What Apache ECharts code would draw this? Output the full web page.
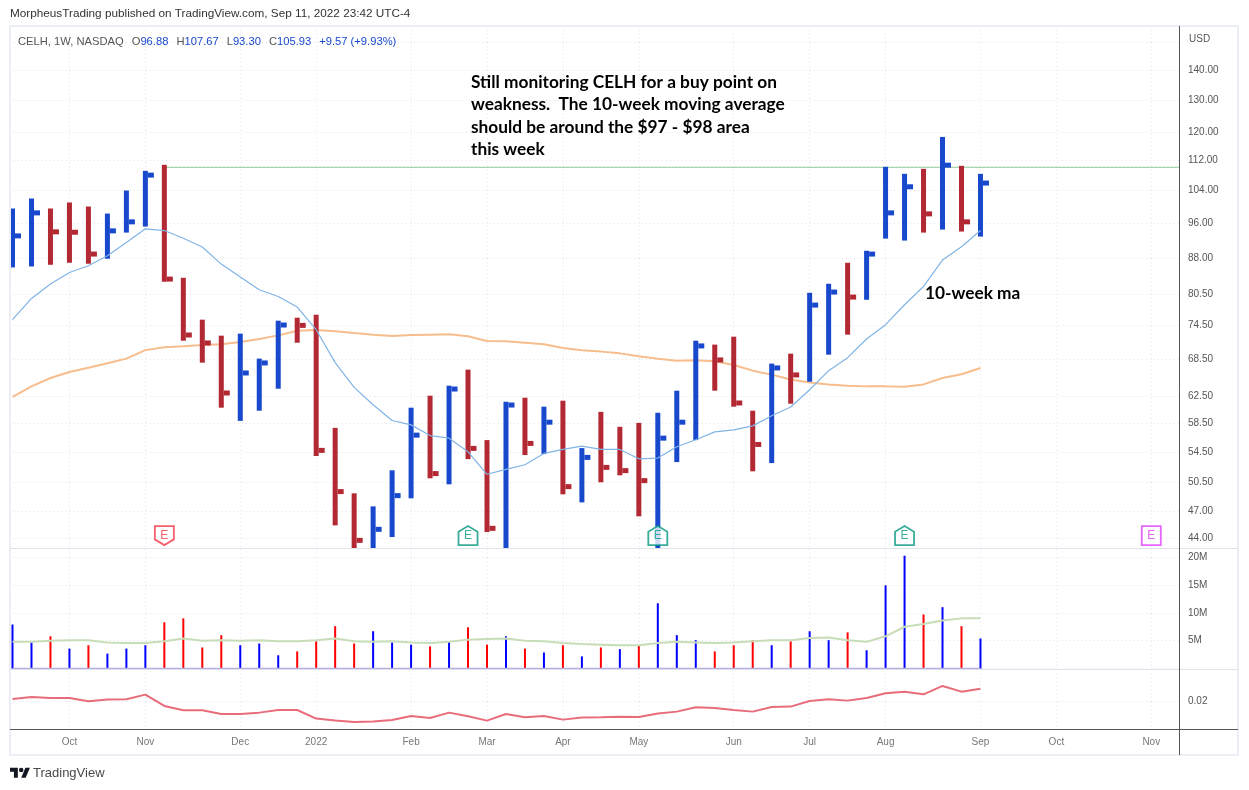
<!DOCTYPE html>
<html>
<head>
<meta charset="utf-8">
<title>CELH 1W</title>
<script src="https://cdn.jsdelivr.net/npm/echarts@6/dist/echarts.min.js"></script>
<style>
html,body{margin:0;padding:0;background:#fff;}
#main{width:1249px;height:790px;}
</style>
</head>
<body>
<div id="main"></div>
<script>
// weekly bars, index 0 = week of Sep 13 2021
var highs = [99.47,101.96,99.47,100.96,99.96,98.23,104,109.18,110.82,83.81,75.56,72.63,72.99,68.62,75.37,75.93,76.5,57.82,49.18,47.62,52.06,60.78,62.61,64.18,66.78,56.1,61.69,62.3,60.93,61.84,55,60.16,57.97,58.54,60.01,63.39,71.73,71.04,72.45,60.33,67.78,69.47,80.76,82.58,86.98,89.6,110.27,108.38,109.72,118.73,110.54,108.38];
var lows = [85.98,86.19,86.55,86.98,86.77,87.85,93.72,95.13,82.99,71.73,67.94,60.78,58.83,60.33,63.7,71.38,53.92,45.43,42,42,44.14,48.58,51.04,50.29,53.52,44.69,42,54.06,54.19,49.06,48.09,50.54,51.42,46.46,42,53.13,56.1,63.39,60.93,51.93,53,61.38,64.81,69.3,72.81,79.37,92.34,91.89,93.72,94.42,93.96,92.8];
var closes = [92.96,98.4,93.89,93.8,88.87,94.12,96.24,108.03,83.54,72.75,71.33,63.03,66.23,67.89,74.57,74.5,54.69,49.39,43.78,44.99,48.9,56.79,51.64,63.65,54.96,45.1,61.18,55.64,58.64,50,53.75,52.44,52.02,50.75,56.37,58.64,70.81,68.4,61.49,55.5,67.06,65.91,78.34,80.9,79.9,88.87,98.4,104.96,98.16,110.73,96.24,105.93];
var ma10 = [75.56,79.63,82.52,84.92,86.34,88.5,91.43,94.59,94.19,92.41,90.43,86.69,83.96,81.36,80.02,77.95,73.71,67.94,63.91,61.23,58.88,58.25,56.73,56.37,54.5,51.55,52.19,52.78,54.28,54.82,55.27,54.82,54.82,53.56,53.66,55.18,56.14,57.25,57.54,58.11,59.57,60.88,63.54,66.61,68.79,72.04,74.63,78.4,82.03,87.57,90.49,94.19];
var ma50 = [62.41,64.07,65.41,66.4,67.09,67.83,68.62,70.08,70.56,70.74,70.98,71.09,71.5,72.04,72.68,73.53,73.66,73.44,73.11,72.81,72.57,72.75,72.81,72.87,72.52,71.68,71.62,71.39,71.09,70.46,70.04,69.82,69.52,69.01,68.62,68.28,68.33,68.16,67.55,66.61,65.96,65.18,64.7,64.38,64.18,64.07,64.07,64.02,64.38,65.41,66.01,67.06];
var volumeM = [7.9,4.7,5.8,3.6,4.2,2.7,3.6,4.2,8.3,9,3.8,6,4.2,4.5,2.4,3.1,4.9,7.6,4.5,6.7,4.7,4.3,4,4.9,7.4,4.3,5.8,3.6,2.9,4.2,2.2,3.8,3.5,4.2,11.7,6,5.1,3.1,4.2,5.1,4.2,4.9,6.7,5.1,6.5,3.3,14.9,20.2,9.7,11,7.6,5.4];
var volumeUp = [1,1,0,1,0,1,1,1,0,0,0,0,1,1,1,0,0,0,0,1,1,1,0,1,0,0,1,0,1,0,1,0,1,0,1,1,1,0,0,0,1,0,1,1,0,1,1,1,0,1,0,1];
var volumeMaM = [4.8,4.8,5,5.1,5.1,4.7,4.6,4.6,4.9,5.4,5,5.1,5,5.1,4.9,4.9,5.1,5.4,4.9,4.8,4.9,4.7,4.6,4.8,5.2,5.3,5.4,5,4.9,4.6,4.4,4.3,4.2,4.2,4.6,4.8,4.7,4.6,4.7,4.9,5.1,5.1,5.5,5.6,5.1,4.8,5.8,7.5,8,8.6,9,9];
var oscValues = [.02083,.02155,.02119,.02119,.02,.0206,.02071,.02238,.01833,.01679,.01679,.01548,.01548,.01595,.0169,.0169,.01381,.0131,.01262,.01274,.01333,.01476,.01405,.01595,.01464,.0131,.01548,.01429,.01476,.01345,.01417,.01429,.01452,.0144,.0156,.01631,.01786,.01762,.0169,.01631,.01798,.0181,.02012,.02071,.02024,.02119,.02286,.02345,.0225,.02548,.02345,.02452];

var priceTicks = [44,47,50.5,54.5,58.5,62.5,68.5,74.5,80.5,88,96,104,112,120,130,140,150];
var volumeTicks = [0,5,10,15,20];
var oscTicks = [0.02];
var monthIdx = [3,7,12,16,21,25,29,33,38,42,46,51,55,60];
var monthNames = ['Oct','Nov','Dec','2022','Feb','Mar','Apr','May','Jun','Jul','Aug','Sep','Oct','Nov'];
var earningsIdx = [8,24,34,47,60];
var earningsKind = ['down','up','up','up','future'];
var resistance = 110.14;
var resistanceStart = 8;
var earningsPrice = 44.3;

var upColor = '#1848cc', downColor = '#b22833';
var gridColor = '#e0e3eb', textColor = '#555';
var font = '"Liberation Sans", sans-serif';
var xMin = -0.132, xMax = 61.46;

var myChart = echarts.init(document.getElementById('main'));

function indexed(arr) {
    var res = [];
    for (var i = 0; i < arr.length; i++) res.push([i, arr[i]]);
    return res;
}

function timeAxis(gridIndex, showLabel) {
    return {
        type: 'value', gridIndex: gridIndex, min: xMin, max: xMax,
        axisLine: {show: false},
        axisTick: {show: false, customValues: monthIdx},
        axisLabel: {
            show: showLabel, color: '#777', fontFamily: font, fontSize: 10, margin: 8,
            customValues: monthIdx,
            formatter: function (v) { return monthNames[monthIdx.indexOf(v)]; }
        },
        splitLine: {show: true, lineStyle: {color: gridColor, type: [1, 3], width: 1}}
    };
}

var barData = [];
for (var i = 0; i < highs.length; i++) barData.push([i, highs[i], lows[i], closes[i]]);

var volumeData = [];
for (var j = 0; j < volumeM.length; j++) {
    volumeData.push({
        value: [j, volumeM[j]],
        itemStyle: {color: volumeUp[j] ? '#0000ff' : '#ff0000'}
    });
}

var shapes = {
    down: 'path://M0 0H20V14L10 20L0 14Z',
    up: 'path://M10 0L20 6V20H0V6Z',
    future: 'path://M0 0H20V20H0Z'
};
var shapeColors = {down: '#f23645', up: '#089981', future: '#e040fb'};
var earningsData = earningsIdx.map(function (idx, k) {
    var c = shapeColors[earningsKind[k]];
    return {
        value: [idx, earningsPrice],
        symbol: shapes[earningsKind[k]],
        itemStyle: {color: '#fff', borderColor: c, borderWidth: 1.8},
        label: {color: c}
    };
});

var option = {
    animation: false,
    backgroundColor: '#fff',
    grid: [
        {left: 10, top: 26, width: 1169, height: 522},
        {left: 10, top: 549, width: 1169, height: 120},
        {left: 10, top: 669, width: 1169, height: 60}
    ],
    xAxis: [timeAxis(0, false), timeAxis(1, false), timeAxis(2, true)],
    yAxis: [
        {
            type: 'log', gridIndex: 0, position: 'right', min: 42.96, max: 156.21,
            axisLine: {show: false},
            axisTick: {show: false, customValues: priceTicks},
            axisLabel: {
                color: textColor, fontFamily: font, fontSize: 10, margin: 9,
                customValues: priceTicks,
                formatter: function (v) { return v == 150 ? '' : v.toFixed(2); }
            },
            splitLine: {show: true, lineStyle: {color: gridColor, type: [1, 3]}}
        },
        {
            type: 'value', gridIndex: 1, position: 'right', min: -0.05, max: 21.4,
            axisLine: {show: false},
            axisTick: {show: false, customValues: volumeTicks},
            axisLabel: {
                color: textColor, fontFamily: font, fontSize: 10, margin: 9,
                customValues: volumeTicks,
                formatter: function (v) { return v ? v + 'M' : ''; }
            },
            splitLine: {show: true, lineStyle: {color: gridColor, type: [1, 3]}}
        },
        {
            type: 'value', gridIndex: 2, position: 'right', min: 0.0101, max: 0.03154,
            axisLine: {show: false},
            axisTick: {show: false, customValues: oscTicks},
            axisLabel: {
                color: textColor, fontFamily: font, fontSize: 10, margin: 9,
                customValues: oscTicks,
                formatter: function (v) { return v.toFixed(2); }
            },
            splitLine: {show: true, lineStyle: {color: gridColor, type: [1, 3]}}
        }
    ],
    series: [
        {
            name: 'MA50', type: 'line', xAxisIndex: 0, yAxisIndex: 0, data: indexed(ma50),
            showSymbol: false, z: 3, lineStyle: {color: '#f7bd8d', width: 2}
        },
        {
            name: 'High line', type: 'line', xAxisIndex: 0, yAxisIndex: 0,
            data: [[resistanceStart, resistance], [xMax, resistance]],
            showSymbol: false, z: 2, lineStyle: {color: '#93c99a', width: 1}
        },
        {
            name: 'CELH', type: 'custom', xAxisIndex: 0, yAxisIndex: 0, data: barData, clip: true, z: 4,
            encode: {x: 0, y: [1, 2, 3]},
            renderItem: function (params, api) {
                var idx = api.value(0);
                var top = api.coord([idx, api.value(1)]);
                var bot = api.coord([idx, api.value(2)]);
                var cl = api.coord([idx, api.value(3)]);
                var prev = idx > 0 ? closes[idx - 1] : 0;
                var color = api.value(3) >= prev ? upColor : downColor;
                return {
                    type: 'group',
                    children: [
                        {type: 'rect', shape: {x: top[0] - 2.5, y: top[1], width: 5, height: bot[1] - top[1]}, style: {fill: color}},
                        {type: 'rect', shape: {x: top[0] + 2.5, y: cl[1] - 2.5, width: 6, height: 5}, style: {fill: color}}
                    ]
                };
            }
        },
        {
            name: 'MA10', type: 'line', xAxisIndex: 0, yAxisIndex: 0, data: indexed(ma10),
            showSymbol: false, z: 5, lineStyle: {color: '#80b4e6', width: 1.2}
        },
        {
            name: 'Earnings', type: 'scatter', xAxisIndex: 0, yAxisIndex: 0, data: earningsData, z: 6,
            symbolSize: 19,
            label: {show: true, position: 'inside', formatter: 'E', fontFamily: font, fontSize: 12}
        },
        {
            name: 'Volume', type: 'bar', xAxisIndex: 1, yAxisIndex: 1, data: volumeData, barWidth: 2, z: 2
        },
        {
            name: 'Volume base', type: 'line', xAxisIndex: 1, yAxisIndex: 1, data: indexed(volumeM.map(function () { return 0; })),
            showSymbol: false, z: 3, lineStyle: {color: '#b3aede', width: 2}
        },
        {
            name: 'Volume MA', type: 'line', xAxisIndex: 1, yAxisIndex: 1, data: indexed(volumeMaM),
            showSymbol: false, z: 3, lineStyle: {color: '#c6ddb7', width: 2}
        },
        {
            name: 'RS', type: 'line', xAxisIndex: 2, yAxisIndex: 2, data: indexed(oscValues),
            showSymbol: false, z: 3, lineStyle: {color: '#e86c7a', width: 2}
        }
    ],
    graphic: [
        {type: 'rect', z: 10, shape: {x: 10, y: 26, width: 1228, height: 729}, style: {fill: 'none', stroke: '#eceef5', lineWidth: 2}},
        {type: 'line', z: 10, shape: {x1: 10, y1: 548.5, x2: 1238, y2: 548.5}, style: {stroke: gridColor}},
        {type: 'line', z: 10, shape: {x1: 10, y1: 669.5, x2: 1238, y2: 669.5}, style: {stroke: gridColor}},
        {type: 'line', z: 10, shape: {x1: 10, y1: 729.5, x2: 1238, y2: 729.5}, style: {stroke: '#555'}},
        {type: 'line', z: 10, shape: {x1: 1179.5, y1: 26, x2: 1179.5, y2: 755}, style: {stroke: '#555'}},
        {type: 'text', z: 11, x: 10, y: 8, style: {text: 'MorpheusTrading published on TradingView.com, Sep 11, 2022 23:42 UTC-4', fill: '#333', font: '11.75px ' + font}},
        {
            type: 'text', z: 11, x: 18, y: 36,
            style: {
                text: '{g|CELH, 1W, NASDAQ}{s| }{g|O}{b|96.88}{s| }{g|H}{b|107.67}{s| }{g|L}{b|93.30}{s| }{g|C}{b|105.93}{s| }{b|+9.57 (+9.93%)}',
                rich: {
                    g: {fill: '#555', font: '11.2px ' + font},
                    b: {fill: upColor, font: '11.2px ' + font},
                    s: {width: 8, font: '11.2px ' + font}
                }
            }
        },
        {type: 'text', z: 11, x: 1189, y: 34, style: {text: 'USD', fill: textColor, font: '10px ' + font}},
        {type: 'text', z: 11, x: 471, y: 71, style: {text: 'Still monitoring CELH for a buy point on\nweakness.  The 10-week moving average\nshould be around the $97 - $98 area\nthis week', fill: '#000', font: 'bold 17.3px Lato, sans-serif', lineHeight: 22.4}},
        {type: 'text', z: 11, x: 925, y: 285, style: {text: '10-week ma', fill: '#000', font: 'bold 17.3px Lato, sans-serif'}},
        {type: 'text', z: 11, x: 33, y: 767, style: {text: 'TradingView', fill: '#4a4a4a', font: '13px ' + font}},
        // TradingView logo
        {type: 'polygon', z: 11, x: 10, y: 765.5, scaleX: 0.56, scaleY: 0.56, shape: {points: [[14, 22], [7, 22], [7, 11], [0, 11], [0, 4], [14, 4]]}, style: {fill: '#131722'}},
        {type: 'polygon', z: 11, x: 10, y: 765.5, scaleX: 0.56, scaleY: 0.56, shape: {points: [[28, 22], [20, 22], [27.5, 4], [35.5, 4]]}, style: {fill: '#131722'}},
        {type: 'circle', z: 11, x: 10, y: 765.5, scaleX: 0.56, scaleY: 0.56, shape: {cx: 20, cy: 8, r: 4}, style: {fill: '#131722'}}
    ]
};
myChart.setOption(option);

window.addEventListener('resize', function () {
    myChart.resize();
});
</script>
</body>
</html>
